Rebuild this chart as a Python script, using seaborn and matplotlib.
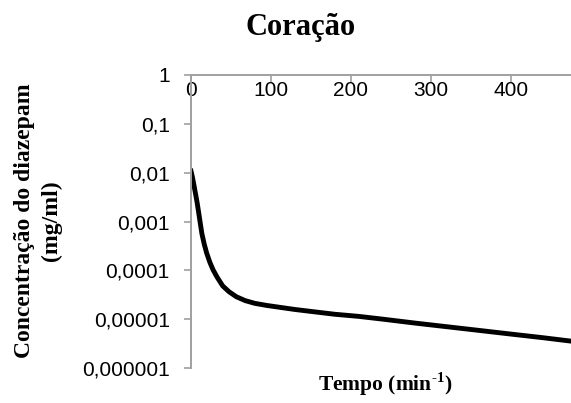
import matplotlib
matplotlib.use("Agg")
import matplotlib.pyplot as plt
import seaborn as sns
import pandas as pd

# data
tempo = [0, 2, 4, 6, 8, 10, 12, 14, 17, 20, 24, 28, 33, 40, 48, 57, 68, 80,
         95, 110, 130, 155, 180, 210, 240, 280, 320, 360, 400, 440, 475]
concentracao = [1.148e-2, 8.32e-3, 5.62e-3, 3.72e-3, 2.45e-3, 1.51e-3, 9.12e-4,
                5.62e-4, 3.39e-4, 2.24e-4, 1.45e-4, 1.02e-4, 7.24e-5, 4.79e-5,
                3.63e-5, 2.88e-5, 2.40e-5, 2.11e-5, 1.91e-5, 1.76e-5, 1.58e-5,
                1.41e-5, 1.26e-5, 1.14e-5, 1.00e-5, 8.32e-6, 7.00e-6, 5.89e-6,
                4.95e-6, 4.17e-6, 3.55e-6]
y_ticks = [1, 0.1, 0.01, 0.001, 0.0001, 0.00001, 0.000001]
y_tick_labels = ["1", "0,1", "0,01", "0,001", "0,0001", "0,00001", "0,000001"]
x_ticks = [0, 100, 200, 300, 400]
x_tick_labels = ["0", "100", "200", "300", "400"]

df = pd.DataFrame({"Tempo": tempo, "Conc": concentracao})

sns.set_theme(style="white")
plt.rcParams["font.family"] = ["Liberation Sans", "DejaVu Sans"]
plt.rcParams["text.color"] = "black"
plt.rcParams["mathtext.fontset"] = "custom"
plt.rcParams["mathtext.rm"] = "Liberation Serif:bold"
plt.rcParams["mathtext.bf"] = "Liberation Serif:bold"

fig = plt.figure(figsize=(5.71, 4.03), dpi=100)
ax = fig.add_axes([190.7 / 571, 1 - 368 / 403, 1 - 190.7 / 571, (368 - 75) / 403])

sns.lineplot(data=df, x="Tempo", y="Conc", ax=ax, color="black", linewidth=3.5)
ax.set_yscale("log")
ax.set_ylim(1e-6, 1)
ax.set_xlim(0, 475)

axis_col = "#A0A0A0"
for s in ["bottom", "right"]:
    ax.spines[s].set_visible(False)
for s in ["left", "top"]:
    ax.spines[s].set_color(axis_col)
    ax.spines[s].set_linewidth(1.4)

ax.set_yticks(y_ticks)
ax.set_yticklabels(y_tick_labels)
ax.yaxis.set_minor_locator(matplotlib.ticker.NullLocator())
ax.tick_params(axis="y", which="major", direction="out", length=5, width=1.2,
               color=axis_col, labelsize=15, pad=10, left=True, labelcolor="black")

ax.set_xticks(x_ticks)
ax.set_xticklabels(x_tick_labels)
ax.xaxis.set_ticks_position("top")
ax.tick_params(axis="x", which="major", direction="in", length=5, width=1.2,
               color=axis_col, labelsize=15, top=True, labeltop=True,
               bottom=False, labelbottom=False, pad=-18, labelcolor="black")
ax.grid(False)

ax.set_xlabel("")
ax.set_ylabel("")

serif = ["Liberation Serif", "DejaVu Serif"]
fig.text(301 / 571, 1 - 28 / 403, "Coração", family=serif, fontweight="bold",
         fontsize=22, ha="center", va="center", color="black")
fig.text(385 / 571, 1 - 384 / 403, r"Tempo (min$^{\text{-1}}$)", family=serif,
         fontweight="bold", fontsize=15.5, ha="center", va="center", color="black")
fig.text(38 / 571, 1 - 221 / 403, "Concentração do diazepam\n(mg/ml)", family=serif,
         fontweight="bold", fontsize=17, ha="center", va="center", rotation=90,
         multialignment="center", linespacing=1.3, color="black")

fig.savefig("out.png", dpi=100)
